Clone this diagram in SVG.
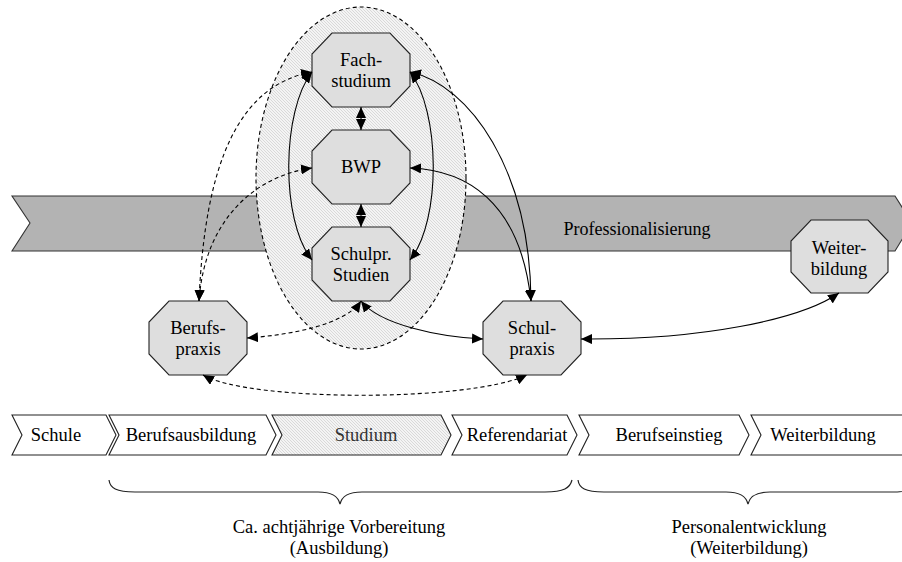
<svg xmlns="http://www.w3.org/2000/svg" width="902" height="562" viewBox="0 0 902 562">
<defs>
<pattern id="hatch" patternUnits="userSpaceOnUse" width="3" height="3">
<rect width="3" height="3" fill="#f4f4f4"/>
<path d="M-1,2 l2,2 M0,0 l3,3 M2,-1 l2,2" stroke="#cdcdcd" stroke-width="0.7"/>
</pattern>
<marker id="ah" viewBox="0 0 11 10" refX="11" refY="5" markerWidth="11" markerHeight="10" markerUnits="userSpaceOnUse" orient="auto-start-reverse">
<path d="M0,0 L11,5 L0,10 z" fill="#000"/>
</marker>
<style>
text{font-family:"Liberation Serif","Times New Roman",serif;font-size:18.5px;fill:#000;text-anchor:middle}
.oct{fill:#dedede;stroke:#222;stroke-width:1.1}
.chev{fill:#fff;stroke:#222;stroke-width:1.1}
.c{fill:none;stroke:#000;stroke-width:1.1}
.d{fill:none;stroke:#000;stroke-width:1.1;stroke-dasharray:4,3}
.ar{marker-start:url(#ah);marker-end:url(#ah)}
.brace{fill:none;stroke:#222;stroke-width:1.2}
</style>
</defs>

<g id="band">
<polygon points="12,196 895,196 912,223 895,251 12,251 30,223" fill="#b3b3b3" stroke="#333" stroke-width="1.1"/>
<text x="637" y="235" style="font-size:18px">Professionalisierung</text>
</g>

<g id="studium-cluster">
<ellipse cx="361" cy="178" rx="105" ry="171" fill="url(#hatch)" stroke="#000" stroke-width="1.1" stroke-dasharray="4,3"/>
</g>

<g id="fachstudium">
<polygon class="oct" points="332,33 390,33 410,54 410,86 390,107 332,107 312,86 312,54"/>
<text x="361" y="66">Fach-</text>
<text x="361" y="87">studium</text>
</g>
<g id="bwp">
<polygon class="oct" points="332,130 390,130 410,151 410,183 390,204 332,204 312,183 312,151"/>
<text x="361" y="173">BWP</text>
</g>
<g id="schulpr-studien">
<polygon class="oct" points="332,227 390,227 410,248 410,280 390,301 332,301 312,280 312,248"/>
<text x="361" y="260">Schulpr.</text>
<text x="361" y="281">Studien</text>
</g>
<g id="berufspraxis">
<polygon class="oct" points="169,301 227,301 247,322 247,354 227,375 169,375 149,354 149,322"/>
<text x="198" y="334">Berufs-</text>
<text x="198" y="355">praxis</text>
</g>
<g id="schulpraxis">
<polygon class="oct" points="503,301 561,301 581,322 581,354 561,375 503,375 483,354 483,322"/>
<text x="532" y="334">Schul-</text>
<text x="532" y="355">praxis</text>
</g>
<g id="weiterbildung-node">
<polygon class="oct" points="811,220 868,220 888,241 888,272 868,293 811,293 791,272 791,241"/>
<text x="839" y="254">Weiter-</text>
<text x="839" y="275">bildung</text>
</g>

<g id="connectors">
<path class="c ar" d="M361,107 L361,130"/>
<path class="c ar" d="M361,204 L361,227"/>
<path class="c ar" d="M312,72 C282,110 280,220 312,260"/>
<path class="c ar" d="M410,72 C440,110 442,220 410,260"/>
<path class="c ar" d="M410,72 C470,85 530,170 531,301"/>
<path class="c ar" d="M410,168 C465,170 520,200 531,301"/>
<path class="d ar" d="M312,72 C240,85 205,160 199,301"/>
<path class="d ar" d="M312,168 C260,175 205,215 199,301"/>
<path class="d ar" d="M361,301 C345,325 290,335 247,338"/>
<path class="c ar" d="M361,301 C380,325 440,337 483,339"/>
<path class="d ar" d="M203,375 C250,402 470,402 527,375"/>
<path class="c ar" d="M581,339 C700,340 800,320 839,293"/>
</g>

<g id="phases">
<g id="p-schule"><polygon class="chev" points="12,415 106,415 116,435 106,455 12,455 22,435"/><text x="56" y="441">Schule</text></g>
<g id="p-berufsausbildung"><polygon class="chev" points="109,415 266,415 276,435 266,455 109,455 119,435"/><text x="191" y="441">Berufsausbildung</text></g>
<g id="p-studium"><polygon points="272,415 441,415 451,435 441,455 272,455 282,435" fill="url(#hatch)" stroke="#222" stroke-width="1.1"/><text x="366" y="441" style="fill:#333">Studium</text></g>
<g id="p-referendariat"><polygon class="chev" points="452,415 567,415 577,435 567,455 452,455 462,435"/><text x="517" y="441">Referendariat</text></g>
<g id="p-berufseinstieg"><polygon class="chev" points="579,415 739,415 749,435 739,455 579,455 589,435"/><text x="669" y="441">Berufseinstieg</text></g>
<g id="p-weiterbildung"><polygon class="chev" points="751,415 910,415 920,435 910,455 751,455 761,435"/><text x="823" y="441">Weiterbildung</text></g>
</g>

<g id="braces">
<path class="brace" d="M109,480 C110,488 116,492 135,492 L318,492 C332,492 338,496 340,504 C342,496 348,492 362,492 L545,492 C564,492 570,488 572,480"/>
<path class="brace" d="M578,480 C579,488 585,492 604,492 L726,492 C740,492 746,496 748,504 C750,496 756,492 770,492 L892,492 C911,492 917,488 918,480"/>
</g>

<g id="labels">
<text x="339" y="533">Ca. achtjährige Vorbereitung</text>
<text x="339" y="554">(Ausbildung)</text>
<text x="749" y="533">Personalentwicklung</text>
<text x="749" y="554">(Weiterbildung)</text>
</g>
</svg>
